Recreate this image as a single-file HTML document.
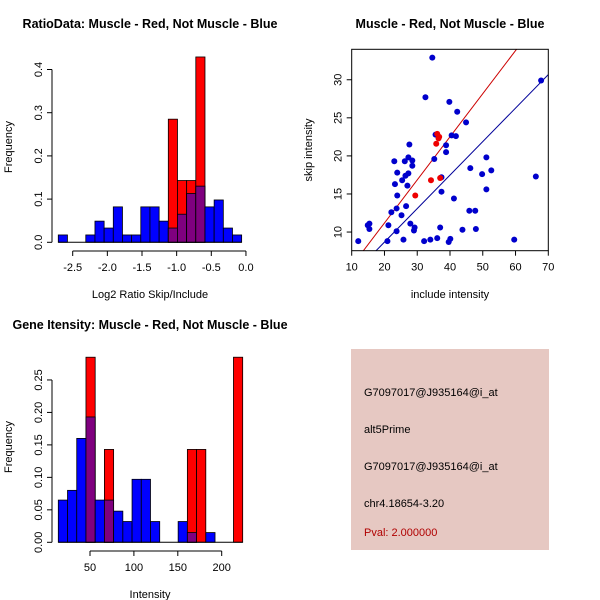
<!DOCTYPE html>
<html><head><meta charset="utf-8"><style>
body{margin:0;background:#fff}
svg{display:block;font-family:"Liberation Sans",Arial,sans-serif}
</style></head><body>
<svg id="s" width="600" height="600" viewBox="0 0 600 600">
<rect width="600" height="600" fill="#fff"/>
<text x="150" y="28" text-anchor="middle" font-size="12.5" font-weight="bold">RatioData: Muscle - Red, Not Muscle - Blue</text>
<text x="450" y="28" text-anchor="middle" font-size="12.5" font-weight="bold">Muscle - Red, Not Muscle - Blue</text>
<text x="150" y="329" text-anchor="middle" font-size="12.5" font-weight="bold">Gene Itensity: Muscle - Red, Not Muscle - Blue</text>
<g>
<rect x="351" y="349" width="198" height="201" fill="#e6c8c2"/>
<text x="364" y="396" font-size="11">G7097017@J935164@i_at</text>
<text x="364" y="433" font-size="11">alt5Prime</text>
<text x="364" y="470" font-size="11">G7097017@J935164@i_at</text>
<text x="364" y="507" font-size="11">chr4.18654-3.20</text>
<text x="364" y="536" font-size="11" fill="#b00000">Pval: 2.000000</text>
</g>
</svg>
<script>
// ---- Ratio histogram data
const ratioStart = -2.708, ratioBinW = 0.1323;
const ratioBlue = [0.017,0,0,0.017,0.049,0.033,0.082,0.017,0.017,0.082,0.082,0.049,0.033,0.065,0.113,0.130,0.082,0.098,0.033,0.017];
const ratioRed  = [0,0,0,0,0,0,0,0,0,0,0,0,0.285,0.143,0.143,0.429,0,0,0,0];
const ratioXTicks = [-2.5,-2.0,-1.5,-1.0,-0.5,0.0];
const ratioXLabels = ["-2.5","-2.0","-1.5","-1.0","-0.5","0.0"];
const ratioYTicks = [0,0.1,0.2,0.3,0.4];
const ratioYLabels = ["0.0","0.1","0.2","0.3","0.4"];
// ---- Intensity histogram data
const intStart = 13.9, intBinW = 10.5;
const intBlue = [0.065,0.080,0.160,0.193,0.065,0.065,0.048,0.032,0.097,0.097,0.032,0,0,0.032,0.015,0,0.015,0,0,0];
const intRed  = [0,0,0,0.285,0,0.143,0,0,0,0,0,0,0,0,0.143,0.143,0,0,0,0.285];
const intXTicks = [50,100,150,200];
const intXLabels = ["50","100","150","200"];
const intYTicks = [0,0.05,0.10,0.15,0.20,0.25];
const intYLabels = ["0.00","0.05","0.10","0.15","0.20","0.25"];
// ---- Scatter data
const blueX = [12.0,14.9,15.4,15.4,20.9,21.2,22.1,23.0,23.2,23.7,23.9,23.9,23.7,25.2,25.4,25.8,26.2,26.4,26.6,27.0,27.3,27.3,27.6,27.9,28.5,28.5,29.2,29.0,32.1,32.5,34.0,34.6,35.2,35.6,36.1,37.0,37.4,37.4,38.8,38.8,39.6,39.8,40.1,40.5,41.8,41.2,42.2,43.8,44.9,45.9,46.2,47.7,47.9,49.8,51.1,51.1,52.6,59.6,66.2,67.8];
const blueY = [8.8,10.9,11.1,10.4,8.8,10.9,12.6,19.3,16.3,13.1,17.8,14.8,10.1,12.2,16.8,9.0,19.3,17.4,13.4,16.1,17.7,19.8,21.5,11.1,19.4,18.7,10.6,10.2,8.8,27.7,9.0,32.9,19.6,22.8,9.2,10.6,17.2,15.3,21.4,20.5,8.7,27.1,9.1,22.7,22.6,14.4,25.8,10.3,24.4,12.8,18.4,12.8,10.4,17.6,19.8,15.6,18.1,9.0,17.3,29.9];
const redX = [29.4,34.2,35.8,36.1,36.5,36.7,37.0];
const redY = [14.8,16.8,21.6,22.9,22.3,22.5,17.1];
const redLine = [-0.13,0.566];   // intercept, slope
const blueLine = [-0.12,0.44];
const scXTicks = [10,20,30,40,50,60,70];
const scYTicks = [10,15,20,25,30];

const NS="http://www.w3.org/2000/svg", S=document.getElementById('s');
function mk(t,a,p){const e=document.createElementNS(NS,t);for(const k in a)e.setAttribute(k,a[k]);(p||S).appendChild(e);return e;}

function hist(cfg){
  const g=mk('g',{});
  
  
  const xs=v=>cfg.x0+(v-cfg.xv0)*cfg.kx, ys=v=>cfg.y0-v*cfg.ky;
  for(let i=0;i<cfg.blue.length;i++){
    const a=xs(cfg.start+i*cfg.w), b=xs(cfg.start+(i+1)*cfg.w);
    const bv=cfg.blue[i], rv=cfg.red[i];
    if(bv>0){const r=mk('rect',{x:a,y:ys(bv),width:b-a,height:ys(0)-ys(bv),fill:'#0000ff',stroke:'#000','stroke-width':0.8},g);
      
      }
    if(rv>0){const r=mk('rect',{x:a,y:ys(rv),width:b-a,height:ys(0)-ys(rv),fill:'#ff0000',stroke:'#000','stroke-width':0.8},g);
      
      }
    if(bv>0&&rv>0){const m=Math.min(bv,rv);const r=mk('rect',{x:a,y:ys(m),width:b-a,height:ys(0)-ys(m),fill:'#7f007f',stroke:'#000','stroke-width':0.8},g);
      
      }
  }
  const baseA=xs(cfg.start), baseB=xs(cfg.start+cfg.blue.length*cfg.w);
  mk('line',{x1:baseA,x2:baseB,y1:ys(0),y2:ys(0),stroke:'#000'},g);
  // x axis
  const ax=cfg.axY, xt=cfg.xt;
  mk('line',{x1:xs(xt[0]),x2:xs(xt[xt.length-1]),y1:ax,y2:ax,stroke:'#000'},g);
  xt.forEach((v,i)=>{mk('line',{x1:xs(v),x2:xs(v),y1:ax,y2:ax+5,stroke:'#000'},g);
    const t=mk('text',{x:xs(v),y:ax+20,'text-anchor':'middle','font-size':11},g);t.textContent=cfg.xl[i];
    
    });
  // y axis
  const yt=cfg.yt, yx=cfg.yx;
  mk('line',{x1:yx,x2:yx,y1:ys(yt[0]),y2:ys(yt[yt.length-1]),stroke:'#000'},g);
  yt.forEach((v,i)=>{mk('line',{x1:yx,x2:yx-5,y1:ys(v),y2:ys(v),stroke:'#000'},g);
    const t=mk('text',{x:yx-10,y:ys(v),'text-anchor':'middle','font-size':11,transform:`rotate(-90 ${yx-10} ${ys(v)})`},g);t.textContent=cfg.yl[i];
    
    });
  const xt2=mk('text',{x:cfg.xTitleX,y:ax+47,'text-anchor':'middle','font-size':11},g);xt2.textContent=cfg.xTitle;
  
  
  const cy=cfg.yTitleY;
  const yt2=mk('text',{x:12,y:cy,'text-anchor':'middle','font-size':11,transform:`rotate(-90 12 ${cy})`},g);yt2.textContent='Frequency';
  
  
}
hist({name:'ratio-histogram',blue:ratioBlue,red:ratioRed,start:ratioStart,w:ratioBinW,x0:72.7,xv0:-2.5,kx:69.3,y0:242.3,ky:432,axY:251,xt:ratioXTicks,xl:ratioXLabels,yt:ratioYTicks,yl:ratioYLabels,yx:52,xTitle:'Log2 Ratio Skip/Include',xTitleX:150,yTitleY:147});
hist({name:'intensity-histogram',blue:intBlue,red:intRed,start:intStart,w:intBinW,x0:90,xv0:50,kx:0.878,y0:542.3,ky:649.4,axY:551,xt:intXTicks,xl:intXLabels,yt:intYTicks,yl:intYLabels,yx:52,xTitle:'Intensity',xTitleX:150,yTitleY:447});

// scatter
(function(){
  const L=351.7,R=548.3,T=49.3,B=250.7, x0=10,x1=70,y0=7.55,y1=34;
  const xs=v=>L+(v-x0)/(x1-x0)*(R-L), ys=v=>B-(v-y0)/(y1-y0)*(B-T);
  const g=mk('g',{});
  
  
  const cp=mk('clipPath',{id:'cp'},g);mk('rect',{x:L,y:T,width:R-L,height:B-T},cp);
  const lg=mk('g',{'clip-path':'url(#cp)'},g);
  [[redLine,'#cc0000','red-fit-line'],[blueLine,'#000099','blue-fit-line']].forEach(([c,col,n])=>{
    const l=mk('line',{x1:xs(x0),y1:ys(c[0]+c[1]*x0),x2:xs(x1),y2:ys(c[0]+c[1]*x1),stroke:col,'stroke-width':1},lg);
    
    
  });
  blueX.forEach((v,i)=>{const c=mk('circle',{cx:xs(v),cy:ys(blueY[i]),r:3,fill:'#0000cc'},g);
    
    });
  redX.forEach((v,i)=>{const c=mk('circle',{cx:xs(v),cy:ys(redY[i]),r:3,fill:'#ee0000'},g);
    
    });
  mk('rect',{x:L,y:T,width:R-L,height:B-T,fill:'none',stroke:'#000'},g);
  scXTicks.forEach(v=>{mk('line',{x1:xs(v),x2:xs(v),y1:B,y2:B+5,stroke:'#000'},g);
    const t=mk('text',{x:xs(v),y:B+20,'text-anchor':'middle','font-size':11},g);t.textContent=v;
    
    });
  scYTicks.forEach(v=>{mk('line',{x1:L,x2:L-5,y1:ys(v),y2:ys(v),stroke:'#000'},g);
    const t=mk('text',{x:L-10,y:ys(v),'text-anchor':'middle','font-size':11,transform:`rotate(-90 ${L-10} ${ys(v)})`},g);t.textContent=v;
    
    });
  const a=mk('text',{x:450,y:298,'text-anchor':'middle','font-size':11},g);a.textContent='include intensity';
  
  
  const b=mk('text',{x:312,y:150,'text-anchor':'middle','font-size':11,transform:'rotate(-90 312 150)'},g);b.textContent='skip intensity';
  
  
})();
</script>
</body></html>
